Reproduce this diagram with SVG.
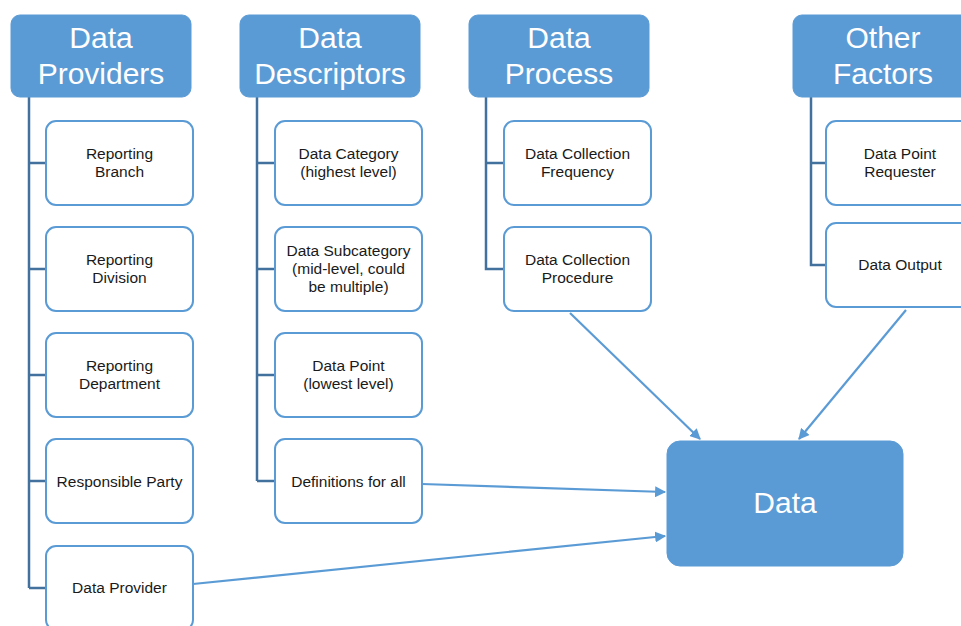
<svg xmlns="http://www.w3.org/2000/svg" width="961" height="626" viewBox="0 0 961 626">
<style>
.hdr{fill:#5B9BD5;stroke:#5B9BD5;stroke-width:1}
.box{fill:#fff;stroke:#5B9BD5;stroke-width:2}
.ht{font-family:"Liberation Sans",Arial,sans-serif;font-size:30px;fill:#fff;text-anchor:middle}
.bt{font-family:"Liberation Sans",Arial,sans-serif;font-size:15.5px;fill:#1a1a1a;text-anchor:middle}
.tree{fill:none;stroke:#41719C;stroke-width:2.5}
.arr{fill:none;stroke:#5B9BD5;stroke-width:2.2;marker-end:url(#ah)}
</style>
<defs>
<marker id="ah" viewBox="0 0 10 10" refX="9" refY="5" markerWidth="5" markerHeight="5" orient="auto" markerUnits="strokeWidth">
<path d="M0,0 L10,5 L0,10 z" fill="#5B9BD5"/>
</marker>
</defs>
<rect width="961" height="626" fill="#fff"/>
<g id="connectors">
<path class="tree" d="M29,97 V588 M29,163 H46 M29,269 H46 M29,375 H46 M29,481 H46 M29,588 H46"/>
<path class="tree" d="M257,97 V481 M257,163 H275 M257,269 H275 M257,375 H275 M257,481 H275"/>
<path class="tree" d="M486,97 V269 H504 M486,163 H504"/>
<path class="tree" d="M811,97 V265 H826 M811,163 H826"/>
<path class="arr" d="M570,313 L700,439"/>
<path class="arr" d="M906,310 L799,439"/>
<path class="arr" d="M422,484 L665,492"/>
<path class="arr" d="M193,584 L665,536"/>
</g>
<g id="h-providers"><rect class="hdr" x="11" y="15" width="180" height="82" rx="9"/><text class="ht" x="101" y="48">Data</text><text class="ht" x="101" y="84">Providers</text></g>
<g id="h-descriptors"><rect class="hdr" x="240" y="15" width="180" height="82" rx="9"/><text class="ht" x="330" y="48">Data</text><text class="ht" x="330" y="84">Descriptors</text></g>
<g id="h-process"><rect class="hdr" x="469" y="15" width="180" height="82" rx="9"/><text class="ht" x="559" y="48">Data</text><text class="ht" x="559" y="84">Process</text></g>
<g id="h-other"><rect class="hdr" x="793" y="15" width="180" height="82" rx="9"/><text class="ht" x="883" y="48">Other</text><text class="ht" x="883" y="84">Factors</text></g>

<g id="n-branch"><rect class="box" x="46" y="121" width="147" height="84" rx="10"/><text class="bt" x="119.5" y="159">Reporting</text><text class="bt" x="119.5" y="177">Branch</text></g>
<g id="n-division"><rect class="box" x="46" y="227" width="147" height="84" rx="10"/><text class="bt" x="119.5" y="265">Reporting</text><text class="bt" x="119.5" y="283">Division</text></g>
<g id="n-department"><rect class="box" x="46" y="333" width="147" height="84" rx="10"/><text class="bt" x="119.5" y="371">Reporting</text><text class="bt" x="119.5" y="389">Department</text></g>
<g id="n-responsible"><rect class="box" x="46" y="439" width="147" height="84" rx="10"/><text class="bt" x="119.5" y="487">Responsible Party</text></g>
<g id="n-provider"><rect class="box" x="46" y="546" width="147" height="84" rx="10"/><text class="bt" x="119.5" y="593">Data Provider</text></g>

<g id="n-category"><rect class="box" x="275" y="121" width="147" height="84" rx="10"/><text class="bt" x="348.5" y="159">Data Category</text><text class="bt" x="348.5" y="177">(highest level)</text></g>
<g id="n-subcategory"><rect class="box" x="275" y="227" width="147" height="84" rx="10"/><text class="bt" x="348.5" y="256">Data Subcategory</text><text class="bt" x="348.5" y="274">(mid-level, could</text><text class="bt" x="348.5" y="292">be multiple)</text></g>
<g id="n-point"><rect class="box" x="275" y="333" width="147" height="84" rx="10"/><text class="bt" x="348.5" y="371">Data Point</text><text class="bt" x="348.5" y="389">(lowest level)</text></g>
<g id="n-definitions"><rect class="box" x="275" y="439" width="147" height="84" rx="10"/><text class="bt" x="348.5" y="487">Definitions for all</text></g>

<g id="n-frequency"><rect class="box" x="504" y="121" width="147" height="84" rx="10"/><text class="bt" x="577.5" y="159">Data Collection</text><text class="bt" x="577.5" y="177">Frequency</text></g>
<g id="n-procedure"><rect class="box" x="504" y="227" width="147" height="84" rx="10"/><text class="bt" x="577.5" y="265">Data Collection</text><text class="bt" x="577.5" y="283">Procedure</text></g>

<g id="n-requester"><rect class="box" x="826" y="121" width="147" height="84" rx="10"/><text class="bt" x="900" y="159">Data Point</text><text class="bt" x="900" y="177">Requester</text></g>
<g id="n-output"><rect class="box" x="826" y="223" width="147" height="84" rx="10"/><text class="bt" x="900" y="270">Data Output</text></g>

<g id="n-data"><rect class="hdr" x="667" y="441" width="236" height="125" rx="13"/><text class="ht" x="785" y="513">Data</text></g>
</svg>
